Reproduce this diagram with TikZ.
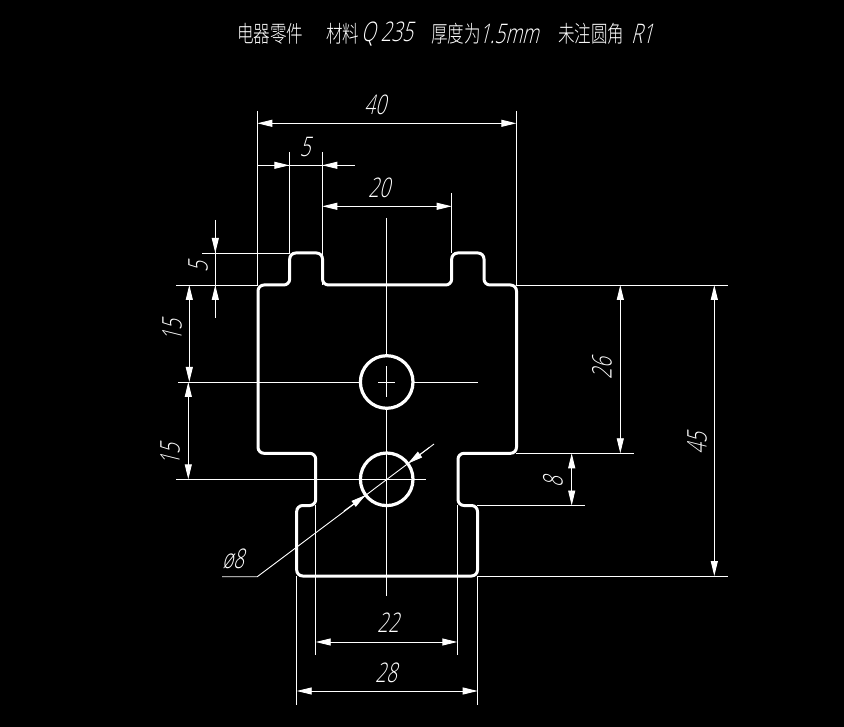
\documentclass[tikz,border=0pt]{standalone}
\usepackage{fontspec}
\usetikzlibrary{arrows.meta}
\setmainfont{Liberation Sans}
\newfontfamily\numfont[FakeSlant=0.25,FakeStretch=0.7]{Open Sans Light}
\newfontfamily\cjkfont[FakeStretch=0.72]{Noto Sans CJK SC Light}
\tikzset{
  x=1pt,y=-1pt,
  thin line/.style={draw=white,line width=0.9pt},
  outline/.style={draw=white,line width=3pt,rounded corners=6pt},
  dimline/.style={draw=white,line width=0.9pt,{Triangle[length=15pt,width=7pt]}-{Triangle[length=15pt,width=7pt]}},
  onetip/.style={draw=white,line width=0.9pt,-{Triangle[length=15pt,width=7pt]}},
  dimtext/.style={text=white,font=\numfont\fontsize{27}{27}\selectfont,inner sep=0pt},
  titletext/.style={text=white,inner sep=0pt,anchor=west,font=\cjkfont\fontsize{23}{23}\selectfont},
}
\begin{document}
\begin{tikzpicture}
\fill[black] (0,0) rectangle (844,727);
\useasboundingbox (0,0) rectangle (844,727);
% outline
\draw[outline] (258,320) -- (258,285) -- (289.7,285) -- (289.7,253) -- (322.5,253) -- (322.5,285) -- (451.7,285) -- (451.7,253) -- (484,253) -- (484,285) -- (516.5,285) -- (516.5,453.3) -- (458,453.3) -- (458,505.5) -- (477.5,505.5) -- (477.5,576) -- (296.7,576) -- (296.7,505.5) -- (315.7,505.5) -- (315.7,453.3) -- (258,453.3) -- (258,320) -- cycle;
% holes
\draw[draw=white,line width=3.2pt] (386.7,382) circle (26.3);
\draw[draw=white,line width=3.2pt] (386.7,479.3) circle (26.3);
% centre lines
\draw[thin line] (386.7,218) -- (386.7,356);
\draw[thin line] (386.7,366.5) -- (386.7,397);
\draw[thin line] (386.7,408) -- (386.7,596);
\draw[thin line] (178,382) -- (360,382);
\draw[thin line] (378,382) -- (395,382);
\draw[thin line] (413,382) -- (478,382);
\draw[thin line] (176,479.3) -- (426,479.3);
% extension lines
\draw[thin line] (257.3,111) -- (257.3,285);
\draw[thin line] (516.3,111) -- (516.3,285);
\draw[thin line] (289.3,152) -- (289.3,253);
\draw[thin line] (322.3,152) -- (322.3,285);
\draw[thin line] (451.7,193) -- (451.7,253);
\draw[thin line] (202,253) -- (290,253);
\draw[thin line] (176,285) -- (258,285);
\draw[thin line] (516,285) -- (728,285);
\draw[thin line] (516,453.3) -- (634,453.3);
\draw[thin line] (477,505.5) -- (585,505.5);
\draw[thin line] (477,576) -- (728,576);
\draw[thin line] (315.7,505) -- (315.7,655);
\draw[thin line] (457.3,505) -- (457.3,655);
\draw[thin line] (296.7,576) -- (296.7,704.5);
\draw[thin line] (477.7,576) -- (477.7,704.5);
% dimension lines
\draw[dimline] (257.3,123.3) -- (516.3,123.3);
\draw[thin line] (257.3,165.3) -- (355,165.3);
\draw[onetip] (273,165.3) -- (289.3,165.3);
\draw[onetip] (338,165.3) -- (322.3,165.3);
\draw[dimline] (322.3,206.3) -- (451.7,206.3);
\draw[thin line] (215.3,220) -- (215.3,318);
\draw[onetip] (215.3,236) -- (215.3,253);
\draw[onetip] (215.3,302) -- (215.3,285);
\draw[dimline] (189.3,285) -- (189.3,382);
\draw[dimline] (188.3,382) -- (188.3,479.3);
\draw[dimline] (620.3,285) -- (620.3,453.3);
\draw[dimline] (571.7,453.3) -- (571.7,505.5);
\draw[dimline] (714.3,285) -- (714.3,576);
\draw[dimline] (315.7,642) -- (457.3,642);
\draw[dimline] (296.7,691) -- (477.7,691);
% leader
\draw[thin line] (222,576.7) -- (257.3,576.7) -- (434,444);
\draw[onetip] (344,511) -- (365.7,495);
\draw[onetip] (429.6,447.3) -- (408,463.5);
% dimension texts
\node[dimtext] (d40) at (375,105) {40};
\node[dimtext] (d5a) at (305,147) {5};
\node[dimtext] (d20) at (379,188) {20};
\node[dimtext,rotate=90] (d5b) at (198,267) {5};
\node[dimtext,rotate=90] (d15a) at (172,331) {15};
\node[dimtext,rotate=90] (d15b) at (170,455) {15};
\node[dimtext,rotate=90] (d26) at (602,369) {26};
\node[dimtext,rotate=90] (d8) at (553,482) {8};
\node[dimtext,rotate=90] (d45) at (697,444) {45};
\node[dimtext] (d22) at (388,623) {22};
\node[dimtext] (d28) at (386,673) {28};
\node[dimtext] (dphi) at (233,559) {ø8};
% title
\node[titletext] (t1) at (237,34) {电器零件};
\node[titletext] (t2) at (326,34) {材料};
\node[dimtext,anchor=west] (t3) at (361,34) {Q 235};
\node[titletext] (t4) at (431,34) {厚度为};
\node[dimtext,anchor=west] (t5) at (479,34) {1.5mm};
\node[titletext] (t6) at (558,34) {未注圆角};
\node[dimtext,anchor=west] (t7) at (631,34) {R1};
\end{tikzpicture}
\end{document}
